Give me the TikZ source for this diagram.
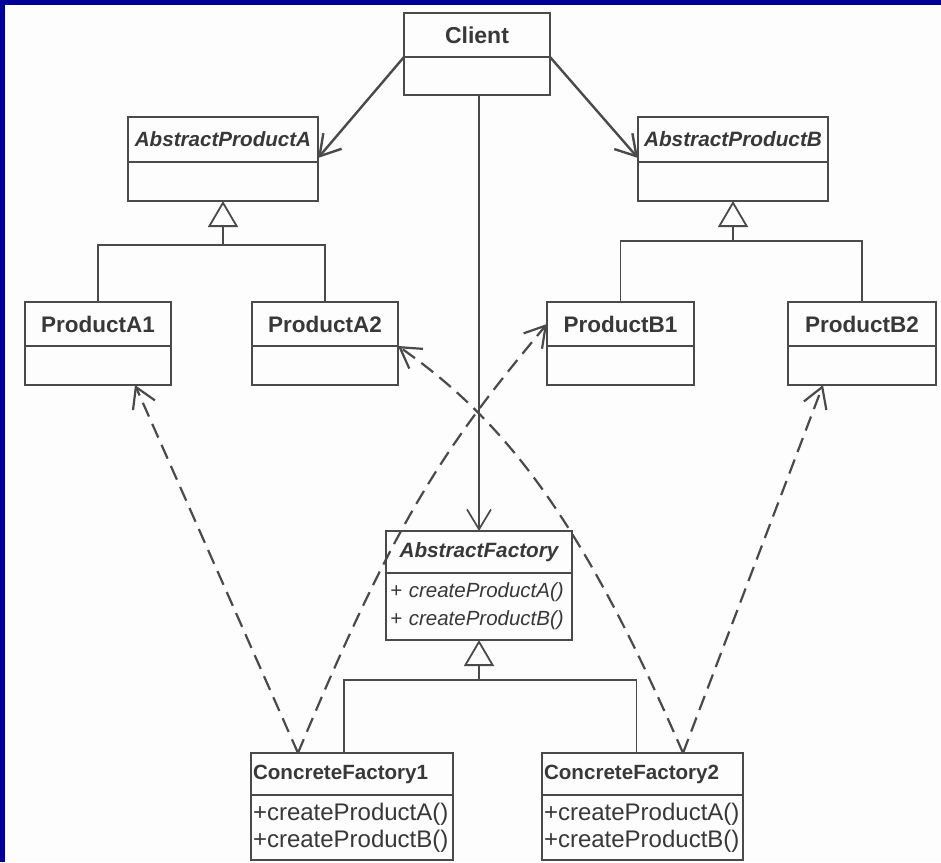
\documentclass[tikz,border=0pt]{standalone}
\usepackage{fontspec}
\setmainfont{Liberation Sans}
\usetikzlibrary{arrows.meta,calc}
\definecolor{frameblue}{HTML}{000099}
\definecolor{ink}{HTML}{4A4A4A}
\definecolor{txt}{HTML}{383838}
\definecolor{paper}{HTML}{FDFDFD}
\begin{document}
\begin{tikzpicture}[x=1pt,y=-1pt,
  part/.style={draw=ink, line width=2pt, rectangle, inner sep=0pt, outer sep=0pt,
    anchor=north west, text=txt},
  ttl/.style={font=\fontsize{#1}{#1}\selectfont\bfseries},
  ittl/.style={font=\fontsize{#1}{#1}\selectfont\bfseries\itshape},
  lefttext/.style={align=left, text width=#1, inner xsep=2pt},
  mth/.style={font=\fontsize{24}{27}\selectfont},
  imth/.style={font=\fontsize{20.5}{28}\selectfont\itshape},
  assoc/.style={draw=ink, line width=2.4pt,
    -{Straight Barb[length=20pt, width=24pt]}},
  gen/.style={draw=ink, line width=1.8pt,
    -{Triangle[open, length=26pt, width=30pt]}},
  genline/.style={draw=ink, line width=1.8pt},
  dep/.style={draw=ink, line width=2.2pt, dash pattern=on 15pt off 8pt,
    -{Straight Barb[length=20pt, width=24pt]}}
]
% page size, paper and the frame strips along the top and left
\useasboundingbox (0,0) rectangle (941,862);
\fill[paper] (0,0) rectangle (941,862);
\fill[frameblue] (0,0) rectangle (941,5);
\fill[frameblue] (0,0) rectangle (5,862);

% Client
\node[part, ttl=23, minimum width=146pt, minimum height=44pt] (client-t) at (404,13) {Client};
\node[part, minimum width=146pt, minimum height=38pt] (client-b) at (client-t.south west) {};

% abstract products
\node[part, ittl=20.6, minimum width=190pt, minimum height=45pt] (apa-t) at (128,117) {AbstractProductA};
\node[part, minimum width=190pt, minimum height=39pt] (apa-b) at (apa-t.south west) {};
\node[part, ittl=20.8, minimum width=190pt, minimum height=45pt] (apb-t) at (638,117) {AbstractProductB};
\node[part, minimum width=190pt, minimum height=39pt] (apb-b) at (apb-t.south west) {};

% concrete products
\node[part, ttl=22.5, minimum width=146pt, minimum height=44pt] (pa1-t) at (25,302) {ProductA1};
\node[part, minimum width=146pt, minimum height=39pt] (pa1-b) at (pa1-t.south west) {};
\node[part, ttl=22.5, minimum width=146pt, minimum height=44pt] (pa2-t) at (252,302) {ProductA2};
\node[part, minimum width=146pt, minimum height=39pt] (pa2-b) at (pa2-t.south west) {};
\node[part, ttl=22.5, minimum width=147pt, minimum height=44pt] (pb1-t) at (547,302) {ProductB1};
\node[part, minimum width=147pt, minimum height=39pt] (pb1-b) at (pb1-t.south west) {};
\node[part, ttl=22.5, minimum width=148pt, minimum height=44pt] (pb2-t) at (788,302) {ProductB2};
\node[part, minimum width=148pt, minimum height=39pt] (pb2-b) at (pb2-t.south west) {};

% abstract factory
\node[part, ittl=20.7, minimum width=186pt, minimum height=42pt] (af-t) at (386,531) {AbstractFactory};
\node[part, imth, lefttext=178pt, inner xsep=4pt, minimum height=67pt] (af-b) at (af-t.south west)
  {+ createProductA()\\+ createProductB()};

% concrete factories
\node[part, ttl=20.6, lefttext=198pt, minimum height=42pt] (cf1-t) at (251,753) {ConcreteFactory1};
\node[part, mth, lefttext=198pt, minimum height=65pt] (cf1-b) at (cf1-t.south west)
  {+createProductA()\\+createProductB()};
\node[part, ttl=20.6, lefttext=197pt, minimum height=42pt] (cf2-t) at (542,753) {ConcreteFactory2};
\node[part, mth, lefttext=197pt, minimum height=65pt] (cf2-b) at (cf2-t.south west)
  {+createProductA()\\+createProductB()};

% client associations
\draw[assoc] (client-t.south west) -- ($(apa-t.south east)+(0,-4)$);
\draw[assoc] (client-t.south east) -- ($(apb-t.south west)+(0,-4)$);
\draw[assoc, line width=1.7pt] (client-b.south -| af-t.north) -- (af-t.north);

% generalisations
\coordinate (ja) at ($(apa-b.south)+(0,44)$);
\draw[gen] (pa1-t.north) |- (ja) -- (apa-b.south);
\draw[genline] (pa2-t.north) |- (ja);

\coordinate (jb) at ($(apb-b.south)+(0,40)$);
\draw[gen] (pb1-t.north) |- (jb) -- (apb-b.south);
\draw[genline] (pb2-t.north) |- (jb);

\coordinate (jf) at ($(af-b.south)+(0,40)$);
\coordinate (s1) at ($(cf1-t.north)+(-8,0)$);
\coordinate (s2) at ($(cf2-t.north)+(-6,0)$);
\draw[gen] (s1) |- (jf) -- (af-b.south);
\draw[genline] (s2) |- (jf);

% dependencies from the concrete factories
\coordinate (d1) at ($(cf1-t.north west)+(47,0)$);
\coordinate (d2) at ($(cf2-t.north west)+(141,0)$);
\draw[dep] (d1) -- ($(pa1-b.south)+(37,0)$);
\draw[dep] (d1) .. controls +(100,-240) and +(-100,120) .. (pb1-t.west);
\draw[dep] (d2) .. controls +(-100,-230) and +(110,77) .. (pa2-t.south east);
\draw[dep] (d2) -- ($(pb2-b.south west)+(35,0)$);
\end{tikzpicture}
\end{document}
